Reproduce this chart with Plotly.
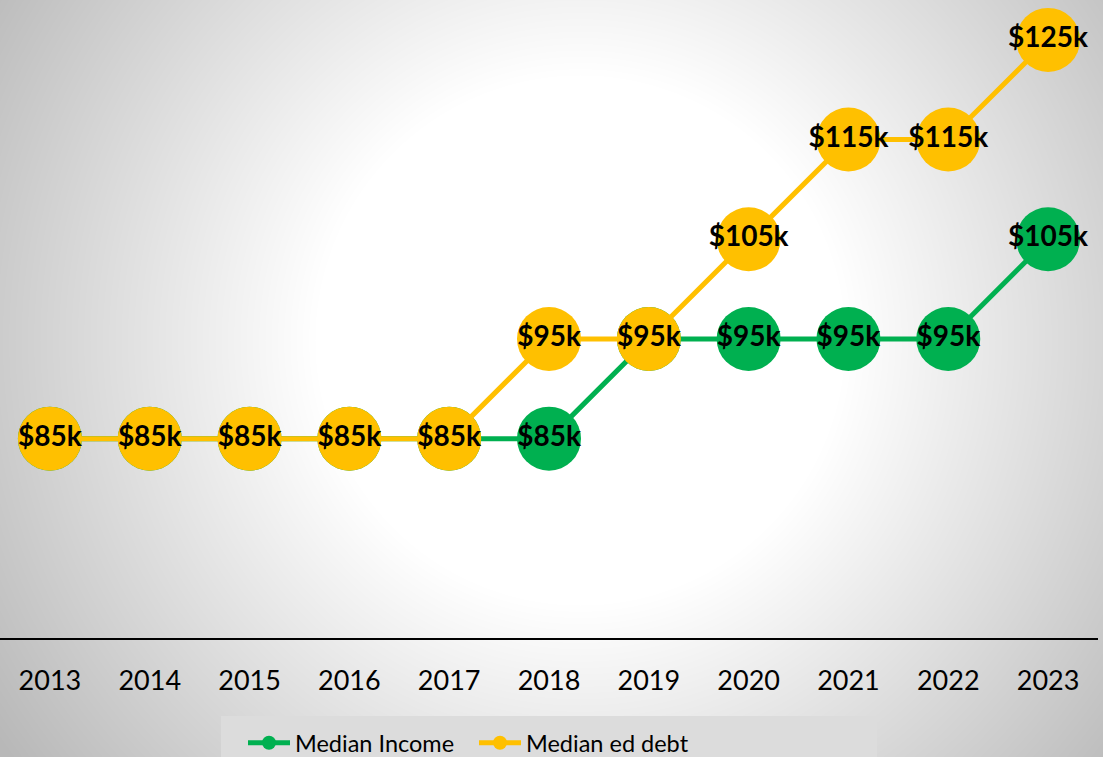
import zlib, struct, base64
import numpy as np
import plotly.graph_objects as go

years = [2013, 2014, 2015, 2016, 2017, 2018, 2019, 2020, 2021, 2022, 2023]
median_income = [85, 85, 85, 85, 85, 85, 95, 95, 95, 95, 105]
median_ed_debt = [85, 85, 85, 85, 85, 95, 95, 105, 115, 115, 125]
tick_labels = [str(y) for y in years]

GREEN = "#00B050"
YELLOW = "#FFC000"
W, H = 1103, 757
ML, MR, MT, MB = 0, 5, 0, 119
PW, PH = W - ML - MR, H - MT - MB

# radial gradient background image
yy, xx = np.mgrid[0:H, 0:W].astype(float)
cx, cy = 580.0, 340.0
d = np.sqrt((xx - cx) ** 2 + (yy - cy) ** 2)
val = 255 - 0.16 * np.clip(d - 265, 0, None)
val = np.clip(val, 184, 255).astype(np.uint8)


def png_gray(arr):
    h, w = arr.shape
    raw = b"".join(b"\x00" + arr[i].tobytes() for i in range(h))

    def chunk(t, dd):
        c = struct.pack(">I", len(dd)) + t + dd
        return c + struct.pack(">I", zlib.crc32(t + dd) & 0xFFFFFFFF)

    return (b"\x89PNG\r\n\x1a\n"
            + chunk(b"IHDR", struct.pack(">IIBBBBB", w, h, 8, 0, 0, 0, 0))
            + chunk(b"IDAT", zlib.compress(raw, 9))
            + chunk(b"IEND", b""))


src = "data:image/png;base64," + base64.b64encode(png_gray(val)).decode()

fig = go.Figure()
label_font = dict(family="Lato", size=28, color="black", weight="bold")

fig.add_trace(go.Scatter(
    x=years, y=median_income, mode="lines+markers+text",
    text=[f"${v}k" for v in median_income], textposition="middle center",
    textfont=label_font,
    line=dict(color=GREEN, width=5), marker=dict(color=GREEN, size=64),
    showlegend=False, cliponaxis=False, name="Median Income"))
fig.add_trace(go.Scatter(
    x=years, y=median_ed_debt, mode="lines+markers+text",
    text=[f"${v}k" for v in median_ed_debt], textposition="middle center",
    textfont=label_font,
    line=dict(color=YELLOW, width=5), marker=dict(color=YELLOW, size=64),
    showlegend=False, cliponaxis=False, name="Median ed debt"))

# legend entries
fig.add_trace(go.Scatter(x=[None], y=[None], mode="lines+markers", name="Median Income",
                         line=dict(color=GREEN, width=5), marker=dict(color=GREEN, size=14)))
fig.add_trace(go.Scatter(x=[None], y=[None], mode="lines+markers", name="Median ed debt",
                         line=dict(color=YELLOW, width=5), marker=dict(color=YELLOW, size=14)))

fig.add_layout_image(dict(
    source=src, xref="paper", yref="paper",
    x=-ML / PW, y=1 + MT / PH, sizex=W / PW, sizey=H / PH,
    sizing="stretch", xanchor="left", yanchor="top", layer="below"))

fig.add_shape(type="rect", xref="paper", yref="paper",
              x0=(221 - ML) / PW, x1=(877 - ML) / PW,
              y0=(PH - (H + 5 - MT)) / PH, y1=(PH - (716 - MT)) / PH,
              fillcolor="#DCDCDC", line=dict(width=0), layer="below")

fig.update_layout(
    width=W, height=H,
    margin=dict(l=ML, r=MR, t=MT, b=MB, autoexpand=False),
    paper_bgcolor="rgba(0,0,0,0)", plot_bgcolor="rgba(0,0,0,0)",
    font=dict(family="Lato", color="black"),
    showlegend=True,
    legend=dict(orientation="h", x=(243 - ML) / PW, xanchor="left",
                y=(PH - (721 - MT)) / PH, yanchor="top",
                bgcolor="rgba(0,0,0,0)", font=dict(size=23.5, family="Lato"),
                itemwidth=42, tracegroupgap=0,
                entrywidth=174, entrywidthmode="pixels"),
    xaxis=dict(range=[2012.5, 2023.5], tickvals=years, ticktext=tick_labels,
               showgrid=False, zeroline=False, showline=True, linecolor="black",
               linewidth=2, ticks="", tickfont=dict(size=27, family="Lato"),
               ticklabelstandoff=18),
    yaxis=dict(range=[65, 129], visible=False, showgrid=False, zeroline=False),
)

fig.write_html("out.html", config={"displayModeBar": False},
               post_script="document.body.style.margin='0';")
